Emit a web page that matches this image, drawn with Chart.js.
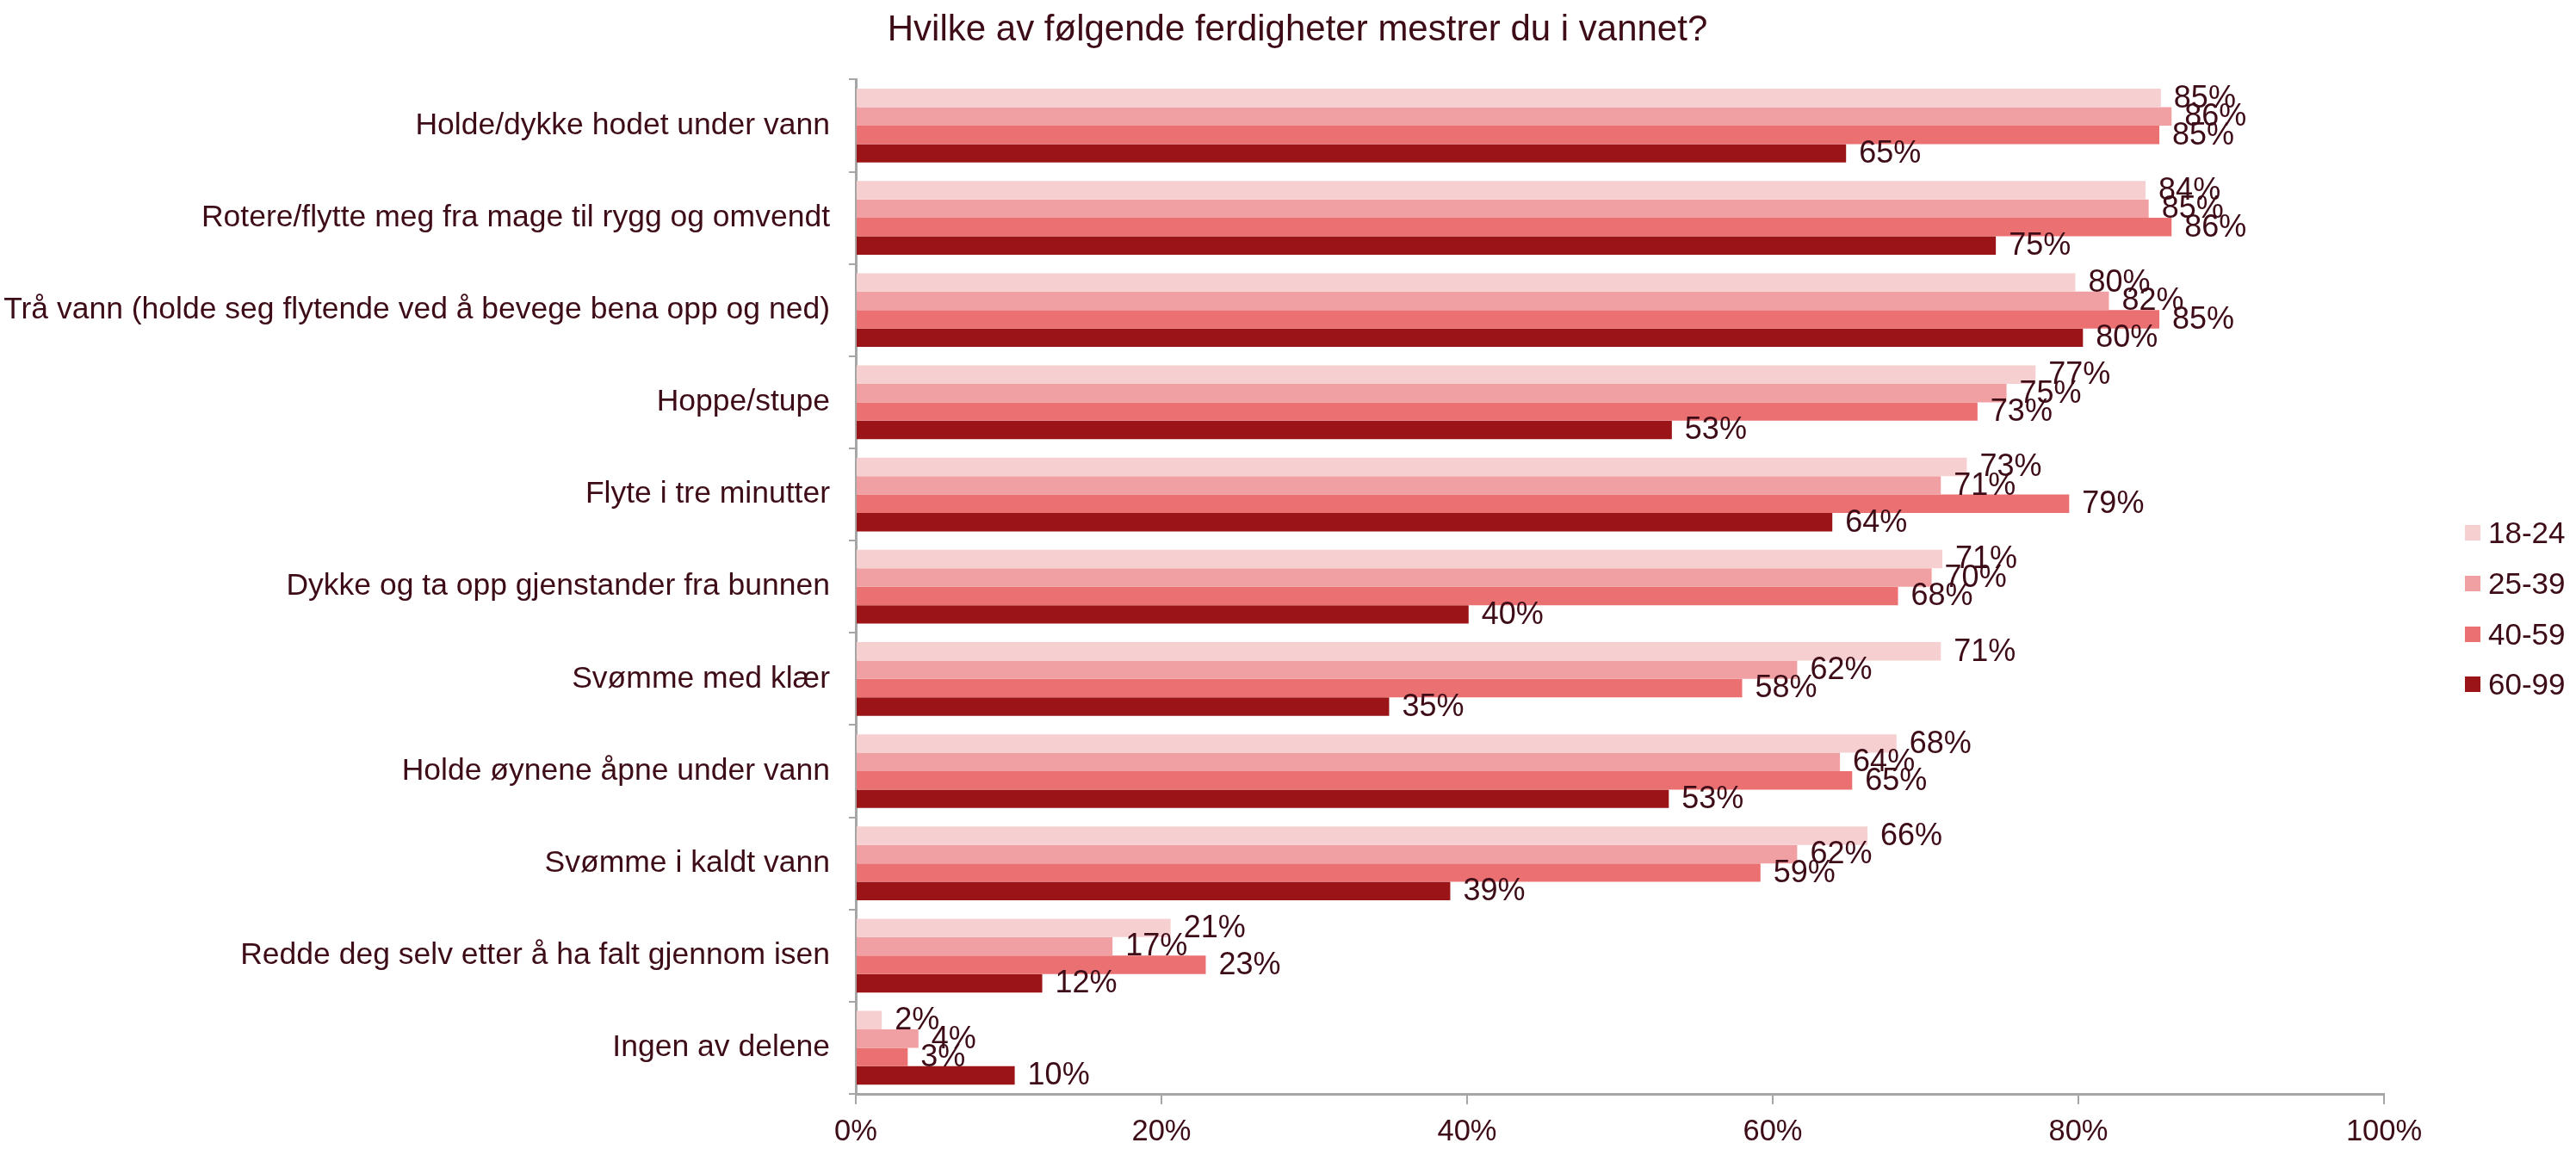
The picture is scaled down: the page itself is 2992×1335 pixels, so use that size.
<!DOCTYPE html>
<html>
<head>
<meta charset="utf-8">
<script src="https://cdn.jsdelivr.net/npm/chart.js@4.4.1/dist/chart.umd.min.js"></script>
<style>
  body { margin: 0; background: #fff; font-family: 'Liberation Sans', Arial, sans-serif; }
  #page { position: relative; width: 2992px; height: 1335px; }
  #wrap { position: absolute; left: 0; top: 0; width: 2992px; height: 1335px; }
  #legend { position: absolute; left: 2863px; top: 590px; margin: 0; padding: 0; list-style: none; }
  #legend li { height: 58.7px; display: flex; align-items: center; font-size: 35px; color: #3d0c17; }
  #legend span { display: inline-block; width: 18px; height: 18px; margin-right: 9px; }
</style>
</head>
<body>
<div id="page">
  <div id="wrap"><canvas id="skills"></canvas></div>
  <ul id="legend"></ul>
</div>
<script>
var categories = [
  "Holde/dykke hodet under vann",
  "Rotere/flytte meg fra mage til rygg og omvendt",
  "Trå vann (holde seg flytende ved å bevege bena opp og ned)",
  "Hoppe/stupe",
  "Flyte i tre minutter",
  "Dykke og ta opp gjenstander fra bunnen",
  "Svømme med klær",
  "Holde øynene åpne under vann",
  "Svømme i kaldt vann",
  "Redde deg selv etter å ha falt gjennom isen",
  "Ingen av delene",
];
var ageGroups = ["18-24", "25-39", "40-59", "60-99"];
var age18to24 = [85.4, 84.4, 79.8, 77.2, 72.7, 71.1, 71.0, 68.1, 66.2, 20.6, 1.7];
var age25to39 = [86.1, 84.6, 82.0, 75.3, 71.0, 70.4, 61.6, 64.4, 61.6, 16.8, 4.1];
var age40to59 = [85.3, 86.1, 85.3, 73.4, 79.4, 68.2, 58.0, 65.2, 59.2, 22.9, 3.4];
var age60to99 = [64.8, 74.6, 80.3, 53.4, 63.9, 40.1, 34.9, 53.2, 38.9, 12.2, 10.4];
var xTicks = [0, 20, 40, 60, 80, 100];

var barColors = ["#f6cfd1", "#f0a0a2", "#eb7072", "#9b1518"];
var textColor = "#3d0c17";
var axisColor = "#a6a6a6";
var sans = "'Liberation Sans', Arial, sans-serif";

// percent labels just right of each bar end
var valueLabels = {
  id: "valueLabels",
  afterLayout(chart) {
    // centre the title over the whole page, not just the padded canvas part
    chart.titleBlock.left = 22;
    chart.titleBlock.right = 2992;
  },
  afterDatasetsDraw(chart) {
    const ctx = chart.ctx;
    ctx.save();
    ctx.font = "36px " + sans;
    ctx.fillStyle = textColor;
    ctx.textAlign = "left";
    ctx.textBaseline = "middle";
    chart.data.datasets.forEach((ds, i) => {
      chart.getDatasetMeta(i).data.forEach((bar, j) => {
        ctx.fillText(Math.round(ds.data[j]) + "%", bar.x + 15, bar.y + 1);
      });
    });
    ctx.restore();
  },
};

var allSeries = [age18to24, age25to39, age40to59, age60to99];

var chart = new Chart("skills", {
  type: "bar",
  data: {
    labels: categories,
    datasets: allSeries.map((values, i) => ({
      label: ageGroups[i],
      data: values,
      backgroundColor: barColors[i],
      barPercentage: 1.0,
      categoryPercentage: 0.8,
    })),
  },
  options: {
    indexAxis: "y",
    responsive: true,
    maintainAspectRatio: false,
    animation: false,
    layout: { padding: { left: 0, right: 223, top: 0, bottom: 0 } },
    plugins: {
      title: {
        display: true,
        text: "Hvilke av følgende ferdigheter mestrer du i vannet?",
        color: textColor,
        font: { family: sans, size: 42, weight: "normal" },
        padding: { top: 10, bottom: 32 },
      },
      legend: { display: false },
      tooltip: { enabled: false },
    },
    scales: {
      x: {
        min: 0,
        max: 100,
        afterBuildTicks(axis) {
          axis.ticks = xTicks.map((v) => ({ value: v }));
        },
        afterFit(scale) {
          scale.height = 64;
        },
        ticks: {
          color: textColor,
          font: { family: sans, size: 34.5 },
          padding: 12,
          maxRotation: 0,
          callback: (v) => v + "%",
        },
        grid: {
          drawOnChartArea: false,
          color: axisColor,
          lineWidth: 2,
          tickLength: 12,
        },
        border: { color: axisColor, width: 3 },
      },
      y: {
        afterFit(scale) {
          scale.width = 994;
        },
        ticks: {
          color: textColor,
          font: { family: sans, size: 35.5 },
          padding: 22,
        },
        grid: {
          drawOnChartArea: false,
          color: axisColor,
          lineWidth: 2,
          tickLength: 8,
        },
        border: { color: axisColor, width: 3 },
      },
    },
  },
  plugins: [valueLabels],
});

// legend kept outside the plot, at the far right
var legendList = document.getElementById("legend");
ageGroups.forEach((name, i) => {
  const li = document.createElement("li");
  li.innerHTML = `<span style="background:${barColors[i]}"></span>${name}`;
  legendList.appendChild(li);
});
</script>
</body>
</html>
